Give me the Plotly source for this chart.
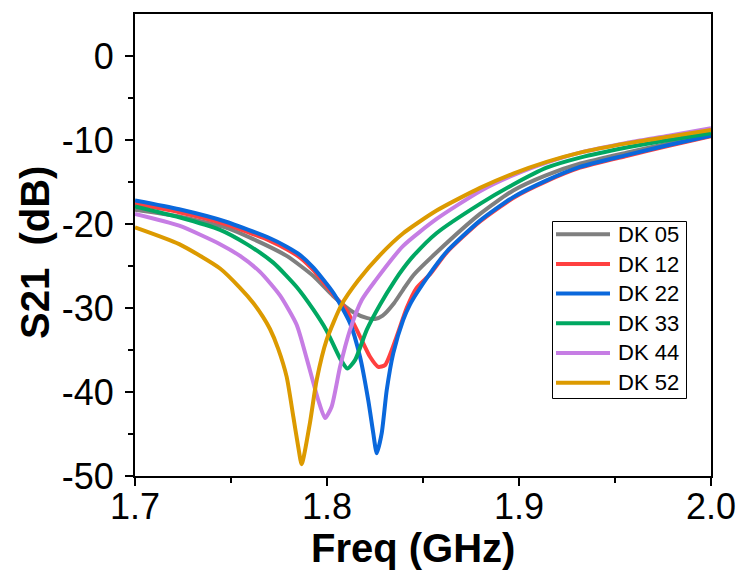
import plotly.graph_objects as go

# ---- data ----
series_names = ["DK 05", "DK 12", "DK 22", "DK 33", "DK 44", "DK 52"]
series_colors = ["#7F7F7F", "#FF4040", "#0A68DC", "#00A862", "#C67DE4", "#DC9A00"]

freq_dk05 = [1.700, 1.723, 1.747, 1.7616, 1.779, 1.7929, 1.8033, 1.8137, 1.821, 1.825, 1.829, 1.835, 1.8397, 1.845, 1.857, 1.8797, 1.897, 1.914, 1.932, 1.956, 1.978, 2.000]
s21_dk05 = [-18.3, -19.1, -20.4, -21.8, -23.8, -26.2, -28.6, -30.5, -31.2, -31.3, -30.9, -29.4, -27.8, -26.1, -23.4, -18.8, -16.0, -14.2, -12.8, -11.5, -10.4, -9.45]

freq_dk12 = [1.700, 1.723, 1.747, 1.7703, 1.779, 1.786, 1.7929, 1.8033, 1.8103, 1.8172, 1.8224, 1.8267, 1.8302, 1.8363, 1.8415, 1.8467, 1.8536, 1.8623, 1.8797, 1.897, 1.9144, 1.9318, 1.956, 1.978, 2.000]
s21_dk12 = [-17.6, -18.6, -20.0, -22.0, -23.0, -24.0, -25.5, -28.4, -30.3, -33.4, -35.8, -37.0, -36.8, -33.4, -30.0, -27.6, -26.0, -23.4, -19.7, -16.9, -14.9, -13.3, -11.9, -10.7, -9.55]

freq_dk22 = [1.700, 1.723, 1.747, 1.7703, 1.779, 1.786, 1.7929, 1.8033, 1.812, 1.8172, 1.8215, 1.8241, 1.8259, 1.8285, 1.8311, 1.8345, 1.8397, 1.8432, 1.8467, 1.8536, 1.8623, 1.8797, 1.897, 1.9144, 1.9318, 1.956, 1.978, 2.000]
s21_dk22 = [-17.2, -18.25, -19.7, -21.7, -22.7, -23.7, -25.2, -28.2, -31.8, -35.8, -41.0, -44.9, -47.3, -44.9, -39.8, -35.4, -31.4, -29.6, -28.25, -25.9, -23.3, -19.6, -16.8, -14.8, -13.2, -11.8, -10.6, -9.5]

freq_dk33 = [1.700, 1.723, 1.7443, 1.7582, 1.772, 1.7842, 1.7929, 1.7998, 1.8068, 1.8106, 1.8146, 1.8207, 1.8276, 1.8354, 1.8397, 1.845, 1.857, 1.8797, 1.897, 1.9144, 1.9318, 1.956, 1.978, 2.000]
s21_dk33 = [-17.9, -19.2, -20.7, -22.4, -24.6, -27.5, -30.2, -32.7, -36.0, -37.2, -36.2, -32.6, -29.6, -26.7, -25.3, -23.8, -21.1, -17.6, -15.3, -13.3, -12.1, -10.9, -10.0, -9.2]

freq_dk44 = [1.700, 1.723, 1.7443, 1.7547, 1.7651, 1.7755, 1.7842, 1.7894, 1.7955, 1.799, 1.8024, 1.8068, 1.812, 1.8181, 1.825, 1.8397, 1.8571, 1.8797, 1.897, 1.9144, 1.9318, 1.956, 1.978, 2.000]
s21_dk44 = [-18.8, -20.2, -22.4, -23.8, -25.7, -28.5, -32.0, -36.0, -41.0, -43.1, -41.75, -37.0, -32.6, -29.05, -26.8, -22.6, -19.4, -16.1, -14.2, -12.7, -11.5, -10.35, -9.5, -8.6]

freq_dk52 = [1.700, 1.723, 1.7443, 1.7547, 1.7616, 1.7665, 1.7703, 1.7745, 1.779, 1.7825, 1.785, 1.7868, 1.7911, 1.7946, 1.7998, 1.8076, 1.8163, 1.8276, 1.8397, 1.8571, 1.8797, 1.897, 1.9144, 1.9318, 1.956, 1.978, 2.000]
s21_dk52 = [-20.4, -22.4, -25.3, -27.6, -29.4, -31.0, -32.5, -34.8, -38.2, -43.0, -46.5, -48.6, -43.7, -38.6, -33.8, -29.6, -26.7, -23.7, -21.1, -18.4, -15.7, -14.0, -12.6, -11.5, -10.4, -9.6, -8.8]

freqs = [freq_dk05, freq_dk12, freq_dk22, freq_dk33, freq_dk44, freq_dk52]
values = [s21_dk05, s21_dk12, s21_dk22, s21_dk33, s21_dk44, s21_dk52]

x_ticks = [1.7, 1.8, 1.9, 2.0]
x_tick_labels = ["1.7", "1.8", "1.9", "2.0"]
y_ticks = [0, -10, -20, -30, -40, -50]
y_tick_labels = ["0", "-10", "-20", "-30", "-40", "-50"]
x_title = "Freq (GHz)"
y_title = "S21  (dB)"

FONT = "Arial, Liberation Sans, sans-serif"

W, H = 739, 576
PX0, PX1, PY0, PY1 = 135, 711, 14, 476          # plot area in page pixels
L, T, R, B = PX0, PY0, W - PX1, H - PY1
PW, PH = PX1 - PX0, PY1 - PY0


def px_to_paper(px, py):
    return (px - PX0) / PW, (PY1 - py) / PH


fig = go.Figure()
for name, color, fx, vy in zip(series_names, series_colors, freqs, values):
    fig.add_trace(go.Scatter(x=fx, y=vy, mode="lines", name=name, showlegend=False,
                             line=dict(color=color, width=4, shape="spline", smoothing=0.6)))

# ---- custom legend box (Origin style) ----
shapes = []
annotations = []
bx0, by0 = px_to_paper(552.5, 398.5)
bx1, by1 = px_to_paper(686.5, 221.5)
shapes.append(dict(type="rect", xref="paper", yref="paper", x0=bx0, y0=by0, x1=bx1, y1=by1,
                   line=dict(color="black", width=1), fillcolor="white", layer="above"))
row_y = [234.3, 264.0, 293.5, 323.3, 352.9, 382.7]
for name, color, ry in zip(series_names, series_colors, row_y):
    lx0, ly = px_to_paper(556, ry)
    lx1, _ = px_to_paper(610, ry)
    shapes.append(dict(type="line", xref="paper", yref="paper", x0=lx0, x1=lx1, y0=ly, y1=ly,
                       line=dict(color=color, width=4), layer="above"))
    tx, _ = px_to_paper(616, ry)
    annotations.append(dict(text=name, xref="paper", yref="paper", x=tx, y=ly,
                            xanchor="left", yanchor="middle", showarrow=False,
                            font=dict(family=FONT, size=22, color="black")))

# ---- axis titles ----
xtx, xty = px_to_paper(412.5, 548)
annotations.append(dict(text="<b>" + x_title + "</b>", xref="paper", yref="paper", x=xtx, y=xty,
                        xanchor="center", yanchor="middle", showarrow=False,
                        font=dict(family=FONT, size=40, color="black")))
ytx, yty = px_to_paper(35, 253)
annotations.append(dict(text="<b>" + y_title + "</b>", xref="paper", yref="paper", x=ytx, y=yty,
                        xanchor="center", yanchor="middle", showarrow=False, textangle=-90,
                        font=dict(family=FONT, size=40, color="black")))

fig.update_layout(
    width=W, height=H,
    margin=dict(l=L, r=R, t=T, b=B),
    paper_bgcolor="white", plot_bgcolor="white",
    font=dict(family=FONT, color="black"),
    showlegend=False,
    shapes=shapes, annotations=annotations,
)

fig.update_xaxes(
    range=[1.7, 2.0], tickmode="array", tickvals=x_ticks, ticktext=x_tick_labels,
    automargin=False,
    showgrid=False, zeroline=False, showline=True, linecolor="black", linewidth=2,
    mirror=True, ticks="outside", ticklen=8, tickwidth=2, tickcolor="black",
    tickfont=dict(family=FONT, size=36, color="black"), ticklabelstandoff=-10,
    minor=dict(tickvals=[1.75, 1.85, 1.95], ticks="outside", ticklen=5, tickwidth=2, tickcolor="black"),
)
fig.update_yaxes(
    range=[-50, 5], tickmode="array", tickvals=y_ticks, ticktext=y_tick_labels,
    automargin=False,
    showgrid=False, zeroline=False, showline=True, linecolor="black", linewidth=2,
    mirror=True, ticks="outside", ticklen=8, tickwidth=2, tickcolor="black",
    tickfont=dict(family=FONT, size=36, color="black"), ticklabelstandoff=4,
    minor=dict(tickvals=[-5, -15, -25, -35, -45], ticks="outside", ticklen=5, tickwidth=2, tickcolor="black"),
)

# remove the default 8px page margin so the figure fills the window exactly
fig.write_html("out.html",
               config={"displayModeBar": False, "staticPlot": True},
               post_script="document.body.style.margin='0px';document.body.style.overflow='hidden';")
